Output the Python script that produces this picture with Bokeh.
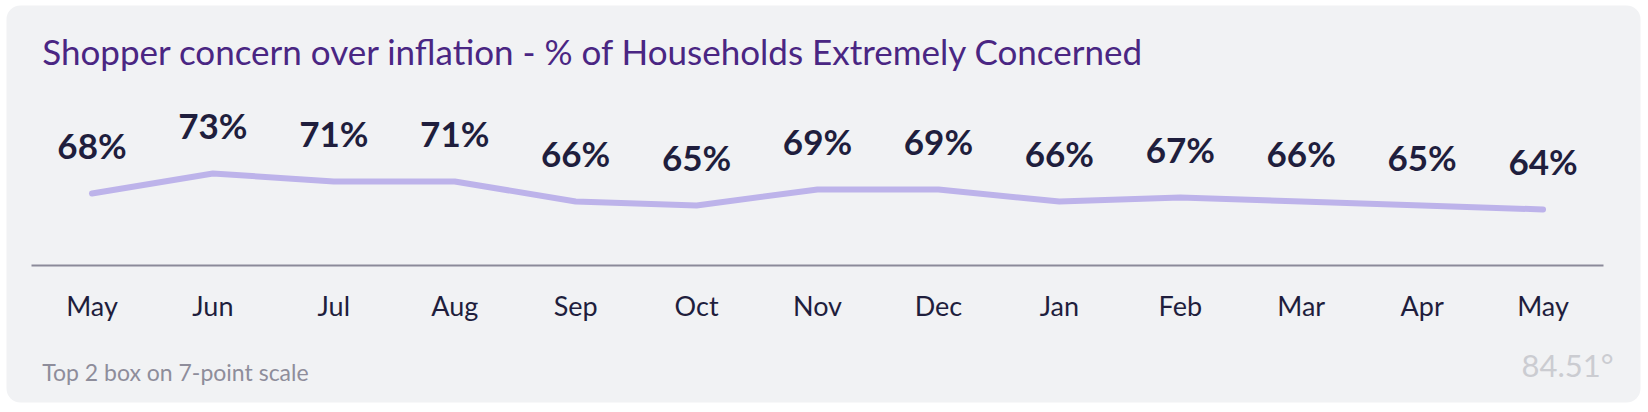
from bokeh.plotting import figure
from bokeh.models import ColumnDataSource, FixedTicker, Label, Range1d, LinearAxis, BoxAnnotation
from bokeh.core.properties import value
from bokeh.embed import file_html
from bokeh.resources import INLINE

months = ["May", "Jun", "Jul", "Aug", "Sep", "Oct", "Nov", "Dec", "Jan", "Feb", "Mar", "Apr", "May"]
concern = [68, 73, 71, 71, 66, 65, 69, 69, 66, 67, 66, 65, 64]
labels = [f"{v}%" for v in concern]
title_text = "Shopper concern over inflation -  % of Households Extremely Concerned"
footnote = "Top 2 box on 7-point scale"
logo = "84.51°"

BG = "#f1f2f4"
FONT = "Lato"
AXIS_BASE = 50

idx = list(range(len(months)))
src = ColumnDataSource(dict(x=idx, y=concern, lab=labels))

p = figure(width=1648, height=412, output_backend="svg", toolbar_location=None,
           x_range=Range1d(-0.7564, 12.872), y_range=Range1d(13.25, 116.25),
           x_axis_location=None, y_axis_location=None,
           min_border=0, min_border_left=0, min_border_right=0,
           min_border_top=0, min_border_bottom=0)
p.background_fill_color = "white"
p.border_fill_color = "white"
p.outline_line_color = None
p.xgrid.grid_line_color = None
p.ygrid.grid_line_color = None

# card panel
p.add_layout(BoxAnnotation(left=-0.7068, right=12.806, top=115.0, bottom=15.75,
                           fill_color=BG, fill_alpha=1, line_color=None, border_radius=14,
                           level="underlay"))

ax = LinearAxis(fixed_location=AXIS_BASE, bounds=(-0.5, len(months) - 0.5))
ax.ticker = FixedTicker(ticks=idx)
ax.major_label_overrides = {i: m for i, m in enumerate(months)}
ax.major_tick_line_color = None
ax.minor_tick_line_color = None
ax.axis_line_color = "#8b8a99"
ax.axis_line_width = 2
ax.major_label_text_font = FONT
ax.major_label_text_font_size = "27px"
ax.major_label_text_color = "#1f1e3d"
ax.major_label_standoff = 17
p.add_layout(ax, "below")

p.line("x", "y", source=src, line_color="#bdb3ea", line_width=6, line_cap="round", line_join="round")
p.text("x", "y", text="lab", source=src, text_font=value(FONT), text_font_style="bold",
       text_font_size="35px", text_color="#1f1e3d", text_align="center",
       text_baseline="alphabetic", y_offset=-49)

p.add_layout(Label(x=-0.4116, y=103.75, text=title_text, text_font=FONT, text_font_size="35px",
                   text_color="#4a2683", text_align="left", text_baseline="alphabetic"))
p.add_layout(Label(x=-0.4116, y=23.4, text=footnote, text_font=FONT, text_font_size="23px",
                   text_color="#8e8d9b", text_align="left", text_baseline="alphabetic"))
p.add_layout(Label(x=12.583, y=25.1, text=logo, text_font=FONT, text_font_size="31px",
                   text_color="#cbccd1", text_align="right", text_baseline="alphabetic"))

open("out.html", "w").write(file_html(p, INLINE))
